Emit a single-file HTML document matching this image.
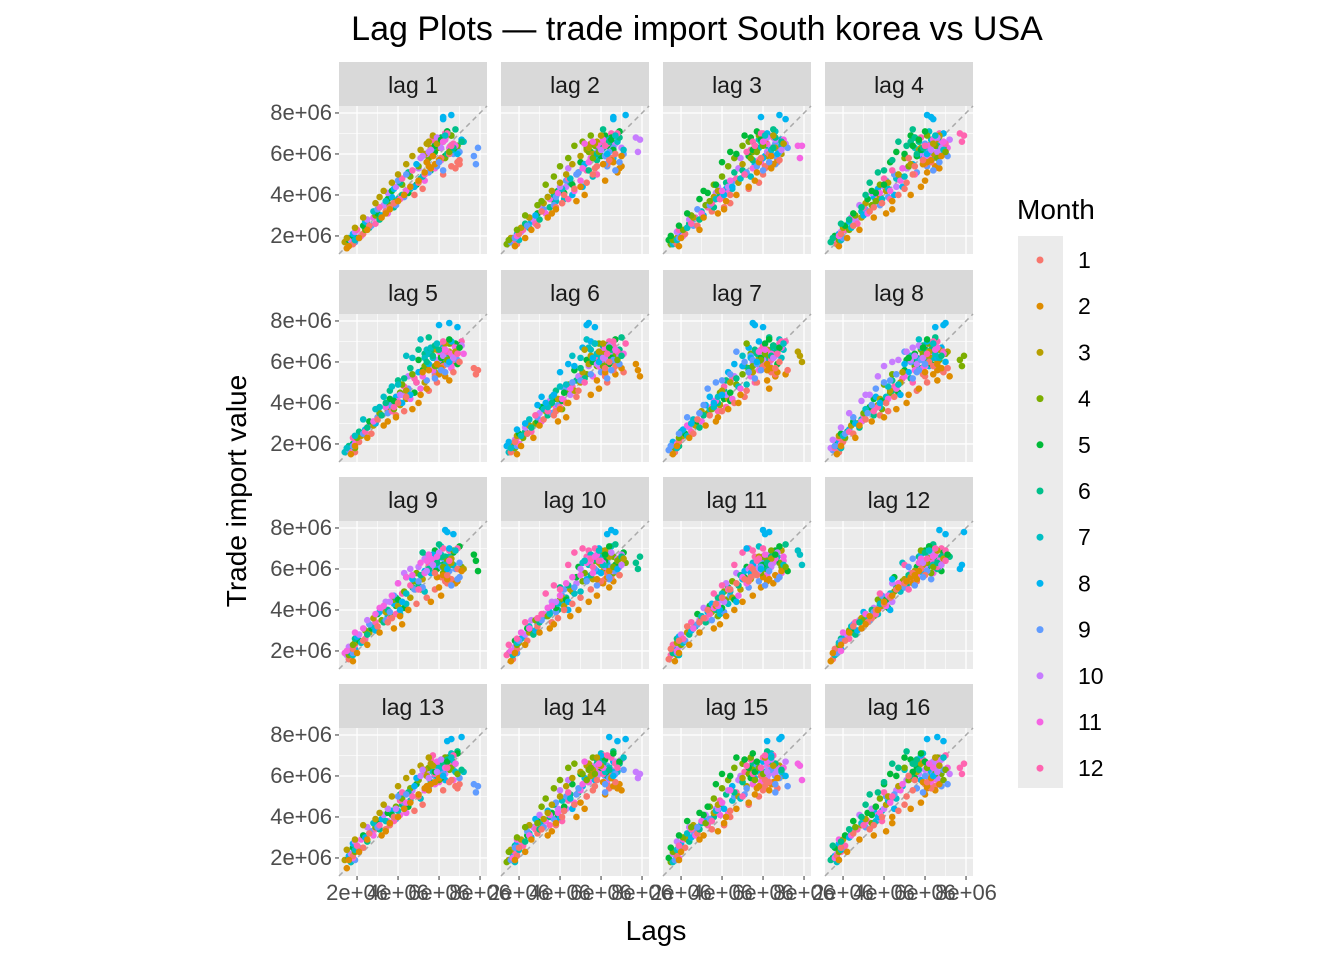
<!DOCTYPE html>
<html><head><meta charset="utf-8">
<style>
body{margin:0;background:#fff;font-family:"Liberation Sans",Arial,sans-serif;}
svg{display:block}
</style></head>
<body>
<svg id="chart" width="1344" height="960" xmlns="http://www.w3.org/2000/svg">
<text x="697" y="40" text-anchor="middle" font-size="34" fill="#000">Lag Plots — trade import South korea vs USA</text>
<text x="656" y="940" text-anchor="middle" font-size="28" fill="#000">Lags</text>
<text transform="translate(246,491) rotate(-90)" text-anchor="middle" font-size="28" fill="#000">Trade import value</text>
<g id="panels"></g>
<g id="legend">
<text x="1017" y="219" font-size="28" fill="#000">Month</text>
<rect x="1018" y="236" width="45" height="552" fill="#ebebeb"></rect>
</g>
</svg>
<script>
// Monthly trade import series (millions), starting at month 1
const series = [
1.5,1.4,1.7,1.6,1.8,1.7,1.6,1.9,1.7,1.8,1.9,1.8,
1.6,1.5,1.9,1.8,2.0,1.9,1.8,2.1,1.9,2.2,2.0,2.3,
2.1,1.9,2.4,2.3,2.5,2.6,2.4,2.7,2.5,2.8,2.9,2.6,
2.5,2.3,2.9,3.0,3.1,2.8,3.2,3.0,3.3,3.5,3.1,3.4,
3.2,2.9,3.6,3.5,3.8,3.4,3.7,3.9,3.5,4.1,3.8,3.6,
3.4,3.1,3.9,3.7,4.2,4.0,3.8,4.3,3.9,4.4,4.1,3.8,
3.6,3.3,4.2,4.5,4.1,4.6,4.3,4.0,4.7,4.4,4.2,4.8,
4.0,3.7,4.6,4.9,4.5,5.1,4.8,4.4,5.0,5.3,4.7,5.2,
4.3,4.0,5.0,5.4,5.6,5.2,4.9,5.5,5.1,5.8,5.3,5.0,
4.6,4.4,5.5,5.8,6.1,5.7,6.3,5.9,5.4,6.0,5.6,6.2,
5.0,4.7,5.9,6.4,6.0,6.6,6.2,5.8,6.5,6.1,5.7,6.8,
5.3,5.1,6.2,6.6,6.9,6.4,7.1,6.7,6.0,6.5,6.3,7.0,
5.5,5.4,6.5,6.1,6.8,7.2,6.6,7.9,6.3,6.7,6.4,6.9,
5.6,5.3,6.0,6.3,5.9,6.6,6.2,7.8,5.5,6.1,5.8,6.6,
5.4,5.6,6.3,5.8,6.4,6.0,6.7,6.2,5.2,5.9,6.5,6.1,
5.8,5.5,6.6,6.9,6.2,6.8,6.4,7.0,6.1,6.3,6.7,6.5,
6.0,5.7,6.9,6.4,7.1,6.6,6.2,7.7,5.9,6.8,6.4,7.0,
5.7,5.9,6.5,6.1,6.7,6.3,6.9,6.0,5.6,6.2,6.6,6.4];
const lags = [1,2,3,4,5,6,7,8,9,10,11,12,13,14,15,16];
const months = [1,2,3,4,5,6,7,8,9,10,11,12];
const monthColors = ["#F8766D","#DE8C00","#B79F00","#7CAE00","#00BA38","#00C08B","#00BFC4","#00B4F0","#619CFF","#C77CFF","#F564E3","#FF64B0"];
const ticks = [2,4,6,8];
const tickLabels = ["2e+06","4e+06","6e+06","8e+06"];

const NS="http://www.w3.org/2000/svg";
const colX=[339,501,663,825], rowY=[62,270,477,684];
const PW=148, STRIP=44, PH=148;
const dMin=1.12, dMax=8.34;
function sx(v,x0){return x0+(v-dMin)/(dMax-dMin)*PW;}
function sy(v,y0){return y0+PH-(v-dMin)/(dMax-dMin)*PH;}
function mk(tag,attrs,parent){const e=document.createElementNS(NS,tag);for(const k in attrs)e.setAttribute(k,attrs[k]);parent.appendChild(e);return e;}
const root=document.getElementById('panels');
lags.forEach((lag,i)=>{
  const c=i%4,r=Math.floor(i/4);
  const x0=colX[c], ys=rowY[r], y0=ys+STRIP;
  const g=mk('g',{},root);
  
  
  const st=mk('rect',{x:x0,y:ys,width:PW,height:STRIP,fill:'#d9d9d9'},g);
  
  
  const stt=mk('text',{x:x0+PW/2,y:ys+31,'text-anchor':'middle','font-size':'23',fill:'#1a1a1a'},g);
  stt.textContent='lag '+lag;
  
  
  const bg=mk('rect',{x:x0,y:y0,width:PW,height:PH,fill:'#ebebeb'},g);
  
  
  [3,5,7].forEach(v=>{
    mk('line',{x1:sx(v,x0),x2:sx(v,x0),y1:y0,y2:y0+PH,stroke:'#fff','stroke-width':0.6},g);
    mk('line',{x1:x0,x2:x0+PW,y1:sy(v,y0),y2:sy(v,y0),stroke:'#fff','stroke-width':0.6},g);
  });
  ticks.forEach((v,k)=>{
    mk('line',{x1:sx(v,x0),x2:sx(v,x0),y1:y0,y2:y0+PH,stroke:'#fff','stroke-width':1.3},g);
    mk('line',{x1:x0,x2:x0+PW,y1:sy(v,y0),y2:sy(v,y0),stroke:'#fff','stroke-width':1.3},g);
    if(c===0){
      mk('line',{x1:x0-4,x2:x0,y1:sy(v,y0),y2:sy(v,y0),stroke:'#333','stroke-width':1},g);
      const t=mk('text',{x:x0-7,y:sy(v,y0)+7,'text-anchor':'end','font-size':'22',fill:'#4d4d4d'},g);
      t.textContent=tickLabels[k];
      
      
    }
    if(r===3){
      mk('line',{x1:sx(v,x0),x2:sx(v,x0),y1:y0+PH,y2:y0+PH+4,stroke:'#333','stroke-width':1},g);
      const t=mk('text',{x:sx(v,x0),y:y0+PH+24,'text-anchor':'middle','font-size':'22',fill:'#4d4d4d'},g);
      t.textContent=tickLabels[k];
      
      
    }
  });
  const d=mk('line',{x1:sx(dMin,x0),y1:sy(dMin,y0),x2:sx(dMax,x0),y2:sy(dMax,y0),stroke:'#aaa','stroke-width':1.5,'stroke-dasharray':'5,4'},g);
  
  
  for(let t=lag;t<series.length;t++){
    const m=t%12;
    const p=mk('circle',{cx:sx(series[t-lag],x0),cy:sy(series[t],y0),r:3.3,fill:monthColors[m]},g);
    
    
  }
});
const lg=document.getElementById('legend');
months.forEach((m,i)=>{
  const y=260+i*46.2;
  const c=mk('circle',{cx:1040,cy:y,r:3.5,fill:monthColors[i]},lg);
  
  
  const t=mk('text',{x:1078,y:y+8,'font-size':'23',fill:'#000'},lg);
  t.textContent=m;
  
  
});
</script>
</body></html>
